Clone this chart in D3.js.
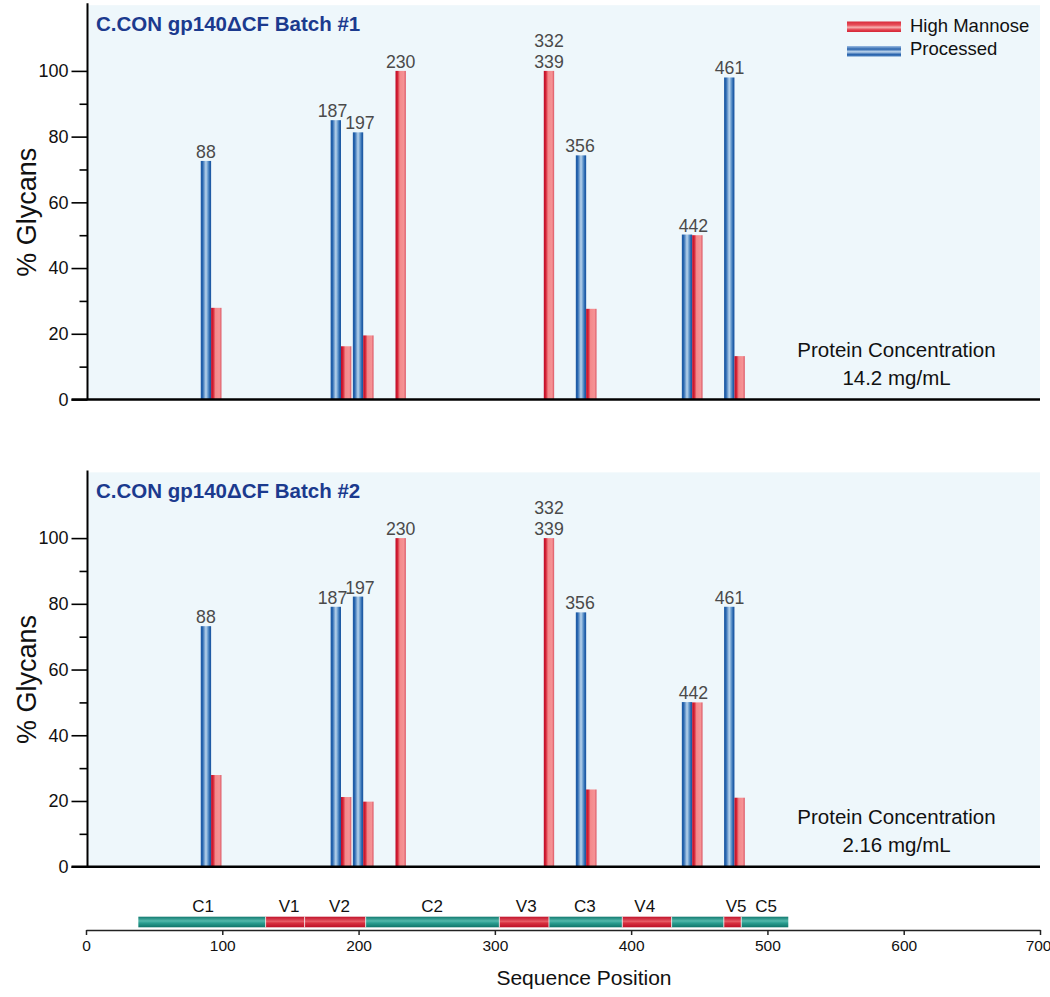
<!DOCTYPE html>
<html>
<head>
<meta charset="utf-8">
<script src="https://cdn.jsdelivr.net/npm/d3@7"></script>
<style>
  html, body { margin: 0; padding: 0; background: #ffffff; }
  svg { display: block; font-family: "Liberation Sans", Arial, Helvetica, sans-serif; }
</style>
</head>
<body>
<svg id="chart" width="1050" height="997"></svg>
<script>
// ---------------- DATA ----------------
const siteLabels = [["88"], ["187"], ["197"], ["230"], ["332", "339"], ["356"], ["442"], ["461"]];
// plotted position (sequence units) of the processed bar / single bar
const barPos = [88, 183.3, 199.6, 230.9, 339.7, 363.2, 441, 472];
// plotted position (sequence units) of the site label
const labelPos = [88, 180.9, 201, 230.9, 339.7, 362.5, 445.7, 472.2];

const batch1Processed   = [72.6, 85.0, 81.3, null, null, 74.3, 50.2, 98.0];
const batch1HighMannose = [27.9, 16.2, 19.5, 100, 100, 27.6, 50.0, 13.2];
const batch2Processed   = [73.2, 79.1, 82.2, null, null, 77.4, 50.1, 79.1];
const batch2HighMannose = [27.9, 21.2, 19.8, 100, 100, 23.5, 50.0, 21.0];

const panelTitles = ["C.CON gp140\u0394CF Batch #1", "C.CON gp140\u0394CF Batch #2"];
const concentrations = ["14.2 mg/mL", "2.16 mg/mL"];
const legendLabels = ["High Mannose", "Processed"];

const yMajorTicks = [0, 20, 40, 60, 80, 100];
const yMinorTicks = [10, 30, 50, 70, 90];
const xTicks = [0, 100, 200, 300, 400, 500, 600, 700];

const regionNames = ["C1", "V1", "V2", "C2", "V3", "C3", "V4", "C4", "V5", "C5"];
const regionStart = [38.4, 131.8, 160.4, 205.2, 303.3, 339.7, 393.5, 429.7, 468.0, 480.8];
const regionEnd   = [131.8, 160.4, 205.2, 303.3, 339.7, 393.5, 429.7, 468.0, 480.8, 515.3];
const regionType  = ["C", "V", "V", "C", "V", "C", "V", "C", "V", "C"];
const regionLabelPos = [86, 149, 186, 254, 323, 366, 410, null, 477, 499];

// ---------------- DRAW ----------------
const svg = d3.select("#chart");
const x = d3.scaleLinear().domain([0, 700]).range([86, 1040]);
const barW = x(7.6) - x(0);

const defs = svg.append("defs");
function grad(id, stops, vertical) {
  const g = defs.append("linearGradient").attr("id", id)
    .attr("x1", 0).attr("y1", 0)
    .attr("x2", vertical ? 0 : 1).attr("y2", vertical ? 1 : 0);
  stops.forEach(s => g.append("stop").attr("offset", s[0]).attr("stop-color", s[1]));
}
const blueStops = [[0, "#1b56a0"], [0.18, "#2766b0"], [0.5, "#b9d4ec"], [0.72, "#5c92c9"], [0.88, "#2260aa"], [1, "#1b56a0"]];
const redStops  = [[0, "#bd0b28"], [0.2, "#d42234"], [0.42, "#f4898b"], [0.8, "#f59294"], [1, "#dc5563"]];
grad("gBlue", blueStops, false);
grad("gRed", redStops, false);
grad("gBlueL", [[0, "#9cbde3"], [0.3, "#2a64ad"], [0.55, "#c0d7ee"], [0.8, "#2a64ad"], [1, "#4d82c0"]], true);
grad("gRedL", [[0, "#d82a3a"], [0.35, "#e8505c"], [0.55, "#f7b0b0"], [0.8, "#e23e4c"], [1, "#d42535"]], true);
grad("gTeal", [[0, "#11796f"], [0.4, "#53b8ab"], [0.6, "#2a9d90"], [1, "#107469"]], true);
grad("gRegRed", [[0, "#c0122a"], [0.45, "#e65a64"], [0.6, "#d8303f"], [1, "#bb1026"]], true);

const panels = [
  { title: panelTitles[0], proc: batch1Processed, hm: batch1HighMannose, conc: concentrations[0], base: 399.5, legend: true },
  { title: panelTitles[1], proc: batch2Processed, hm: batch2HighMannose, conc: concentrations[1], base: 866.7, legend: false }
];

panels.forEach(p => {
  const y = d3.scaleLinear().domain([0, 120]).range([p.base, p.base - 120 * 3.286]);
  const g = svg.append("g");

  // background
  g.append("rect").attr("x", x(0) + 2).attr("y", y(120))
    .attr("width", x(700) - x(0) - 2).attr("height", y(0) - y(120))
    .attr("fill", "#eef7fb");

  // title
  g.append("text").attr("x", 96).attr("y", y(120) + 26)
    .attr("font-size", 20.5).attr("font-weight", "bold").attr("fill", "#1b3a8e")
    .text(p.title);

  // bars
  const data = siteLabels.map((s, i) => ({ i, proc: p.proc[i], hm: p.hm[i] }));
  data.forEach(d => {
    const c = x(barPos[d.i]);
    if (d.proc != null) {
      g.append("rect").attr("x", c - barW / 2).attr("y", y(d.proc))
        .attr("width", barW).attr("height", y(0) - y(d.proc)).attr("fill", "url(#gBlue)");
      g.append("rect").attr("x", c + barW / 2).attr("y", y(d.hm))
        .attr("width", barW).attr("height", y(0) - y(d.hm)).attr("fill", "url(#gRed)");
    } else {
      g.append("rect").attr("x", c - barW / 2).attr("y", y(d.hm))
        .attr("width", barW).attr("height", y(0) - y(d.hm)).attr("fill", "url(#gRed)");
    }
    const topVal = d.proc != null ? d.proc : d.hm;
    const lines = siteLabels[d.i];
    lines.forEach((t, k) => {
      g.append("text").attr("x", x(labelPos[d.i]))
        .attr("y", y(topVal) - 3 - (lines.length - 1 - k) * 20.7)
        .attr("text-anchor", "middle").attr("font-size", 17.7).attr("fill", "#4a4a4a")
        .text(t);
    });
  });

  // y axis
  const axMaj = d3.axisLeft(y).tickValues(yMajorTicks).tickSize(16).tickPadding(3).tickSizeOuter(0);
  const axMin = d3.axisLeft(y).tickValues(yMinorTicks).tickSize(8).tickFormat("").tickSizeOuter(0);
  const ga = g.append("g").attr("transform", `translate(${x(0) + 1.5},0)`).call(axMaj);
  const gm = g.append("g").attr("transform", `translate(${x(0) + 1.5},0)`).call(axMin);
  [ga, gm].forEach(a => {
    a.select(".domain").remove();
    a.selectAll("line").attr("stroke", "#000").attr("stroke-width", 1.6);
    a.selectAll("text").attr("font-size", 18).attr("fill", "#111").attr("font-family", "Liberation Sans, Arial, sans-serif");
  });
  g.append("line").attr("x1", x(0) + 1.5).attr("x2", x(0) + 1.5)
    .attr("y1", y(120) - 2).attr("y2", y(0)).attr("stroke", "#000").attr("stroke-width", 2);
  g.append("line").attr("x1", x(0) - 14.5).attr("x2", x(700))
    .attr("y1", y(0)).attr("y2", y(0)).attr("stroke", "#000").attr("stroke-width", 2.6);

  // y label
  g.append("text").attr("transform", `translate(36,${(y(0) + y(120)) / 2 + 10}) rotate(-90)`)
    .attr("text-anchor", "middle").attr("font-size", 27).attr("fill", "#111")
    .text("% Glycans");

  // concentration
  g.append("text").attr("x", 896.5).attr("y", y(0) - 43).attr("text-anchor", "middle")
    .attr("font-size", 20.5).attr("fill", "#111").text("Protein Concentration");
  g.append("text").attr("x", 896.5).attr("y", y(0) - 15).attr("text-anchor", "middle")
    .attr("font-size", 20.5).attr("fill", "#111").text(p.conc);

  // legend
  if (p.legend) {
    const fills = ["url(#gRedL)", "url(#gBlueL)"];
    legendLabels.forEach((t, k) => {
      g.append("rect").attr("x", 847).attr("y", 21.5 + k * 24.5).attr("width", 54).attr("height", 10.5)
        .attr("fill", fills[k]);
      g.append("text").attr("x", 910).attr("y", 31.7 + k * 23.5).attr("font-size", 18.5)
        .attr("fill", "#111").text(t);
    });
  }
});

// region bar
const reg = svg.append("g");
regionNames.forEach((n, i) => {
  reg.append("rect").attr("x", x(regionStart[i])).attr("y", 916.7)
    .attr("width", x(regionEnd[i]) - x(regionStart[i])).attr("height", 10.6)
    .attr("fill", regionType[i] === "C" ? "url(#gTeal)" : "url(#gRegRed)");
  if (i > 0) {
    reg.append("line").attr("x1", x(regionStart[i])).attr("x2", x(regionStart[i]))
      .attr("y1", 916.7).attr("y2", 927.3).attr("stroke", "#f3f3f3").attr("stroke-width", 0.8);
  }
  if (regionLabelPos[i] != null) {
    reg.append("text").attr("x", x(regionLabelPos[i])).attr("y", 912.3)
      .attr("text-anchor", "middle").attr("font-size", 17).attr("fill", "#111").text(n);
  }
});

// x axis
const xa = svg.append("g").attr("transform", "translate(0,930)")
  .call(d3.axisBottom(x).tickValues(xTicks).tickSize(5).tickPadding(5).tickSizeOuter(0));
xa.select(".domain").attr("stroke", "#222").attr("stroke-width", 1.5);
xa.selectAll("line").attr("stroke", "#222").attr("stroke-width", 1.5);
xa.selectAll("text").attr("font-size", 15.5).attr("fill", "#111").attr("font-family", "Liberation Sans, Arial, sans-serif");
xa.selectAll(".tick").filter(d => d === 700).select("text").attr("text-anchor", "end").attr("dx", 11);

svg.append("text").attr("x", 584).attr("y", 985).attr("text-anchor", "middle")
  .attr("font-size", 21).attr("fill", "#111").text("Sequence Position");
</script>
</body>
</html>
